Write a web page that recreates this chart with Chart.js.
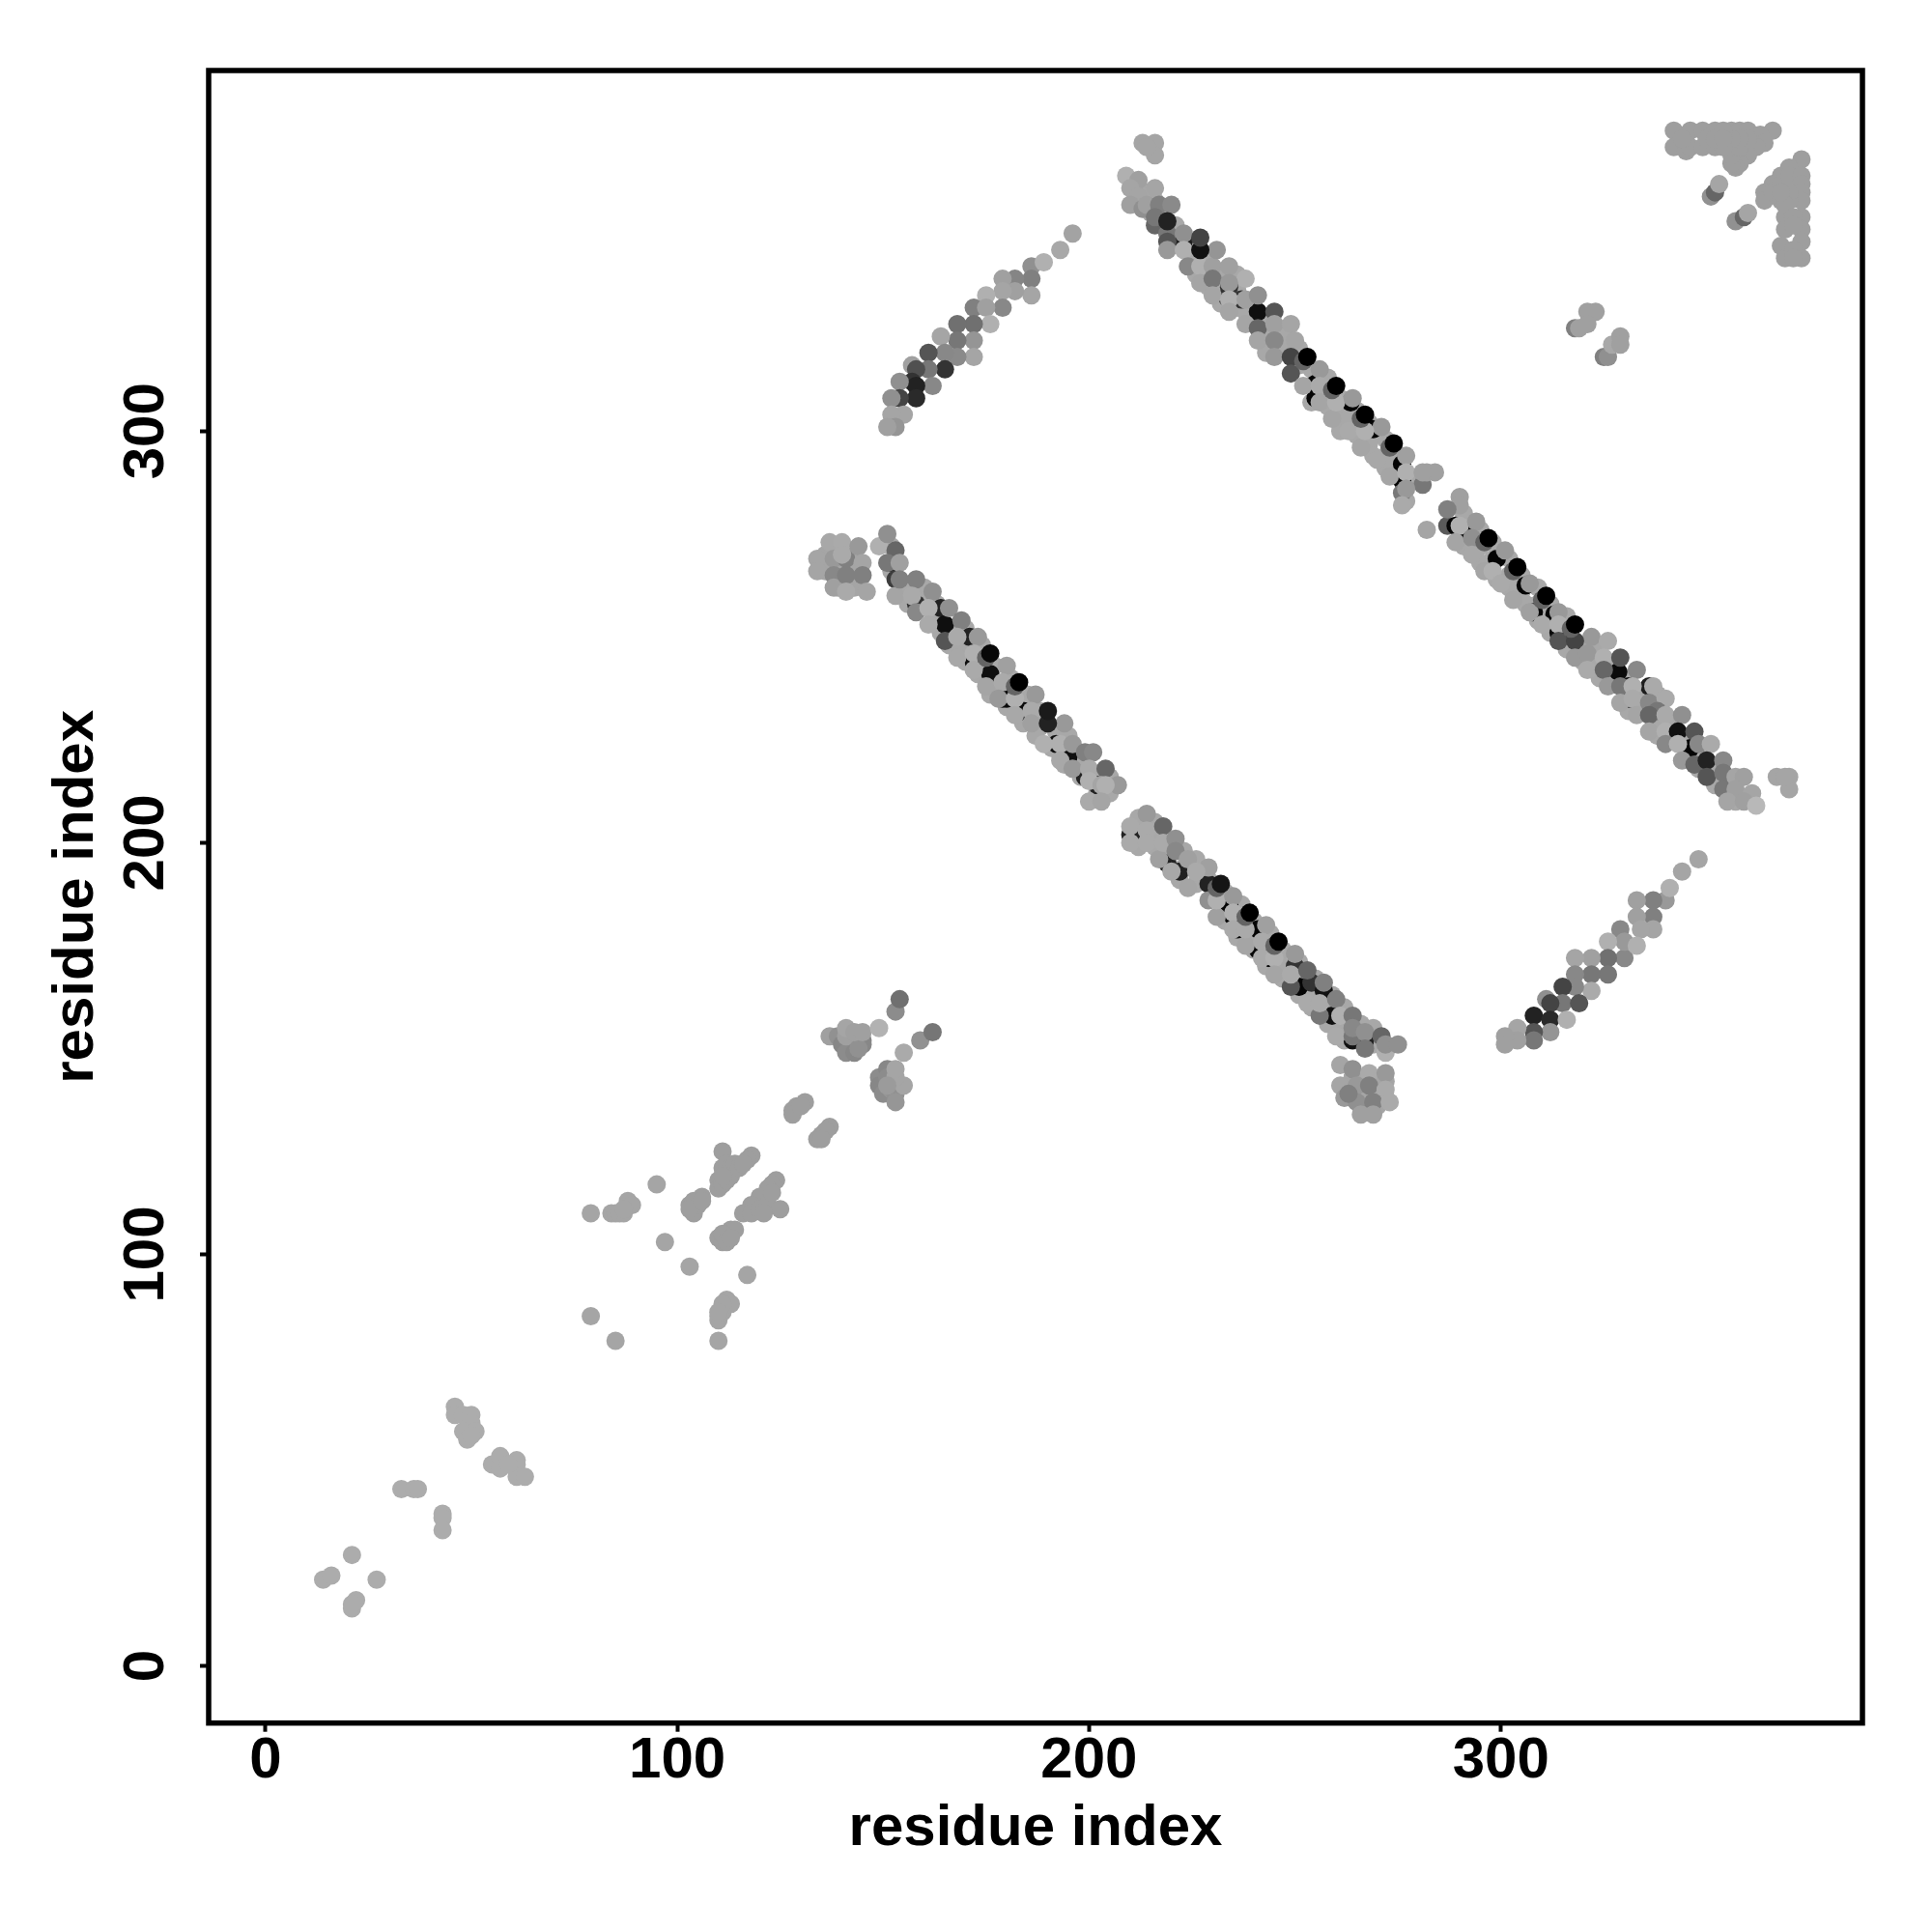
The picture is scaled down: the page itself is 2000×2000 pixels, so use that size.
<!DOCTYPE html>
<html>
<head>
<meta charset="utf-8">
<title>residue contacts</title>
<script src="https://cdn.jsdelivr.net/npm/chart.js@4"></script>
<style>
    html, body { margin: 0; background: #fff; }
</style>
</head>
<body>
<canvas id="contactChart" width="2000" height="2000"></canvas>
<script>
const tickValues = [0, 100, 200, 300];
const axisLabel = "residue index";

// bottom-left scatter
const lowX = [21,14,16,27,22,21,21,33,36,37,43,43,43,46,46,48,50,50,48,51,49,50,55,57,57,61,61,61,63,59];
const lowY = [27,21,22,21,16,14,15,43,43,43,37,36,33,63,61,61,61,59,57,57,55,56,49,51,48,50,49,46,46,49];
const lowShade = 172;

const midX = [79,84,85,86,87,88,89,87,95,97,103,117,79,85,110,110,110,111,112,113,111,110];
const midY = [110,110,110,110,110,113,112,111,117,103,97,95,85,79,79,84,85,86,89,88,88,86];
const midShade = 165;

const wingX = [103,104,106,105,104,103,106,111,111,112,113,114,118,117,110,110,111,112,113,115,116,111,124,123,122,120,118,116,118,120,122,125,123,121,110,111,112,113,114,111,112,113,128,129,131,128,130,134,135,137,136,135];
const wingY = [112,110,114,112,113,111,113,125,121,122,121,122,124,123,118,116,117,118,119,121,122,119,118,117,116,114,112,110,110,111,112,111,115,110,104,103,104,106,106,105,103,104,135,136,137,134,136,128,129,131,130,128];
const wingShade = 158;

const knotX = [137,139,140,141,141,143,145,145,144,141,143,145,149,153,154,159,162,155,149,149,151,151,150,152,153,153,155,153,153,151];
const knotY = [153,153,151,149,153,149,152,151,150,155,154,154,155,159,162,152,154,149,143,141,145,143,139,140,139,137,141,143,145,141];
const knotShade = [160,145,135,140,160,135,130,135,145,165,160,160,178,140,112,145,118,170,140,135,135,140,140,150,145,150,165,165,165,155];

// the two short parallel arms
const armUpX = [196,193,186,189,186,186,182,179,182,179,175,179,172,175,176,172,172,168,168,164,172,168,165,161,165,161,157,158,162,157,158,158,154,154,152,155,152,153,151];
const armUpY = [348,344,340,341,337,333,337,337,334,334,333,330,330,330,326,326,322,326,322,323,318,318,319,319,315,315,316,315,311,312,311,308,312,308,308,304,304,301,301];
const armUpShade = [163,168,144,176,128,165,133,160,160,165,176,136,128,160,176,112,149,112,119,165,165,138,136,85,51,119,160,80,136,51,34,42,144,68,144,165,165,149,160];

const armDownX = [348,344,340,341,337,333,337,337,333,334,329,330,330,326,333,326,322,318,326,322,318,322,318,315,311,315,319,312,308,312,316,312,308,308,304,304,301,301];
const armDownY = [196,193,186,189,186,186,182,179,182,179,179,172,176,176,175,172,172,172,168,168,168,164,165,165,162,161,161,161,158,157,157,154,154,152,155,152,153,151];
const armDownShade = [165,165,153,176,128,160,128,165,160,165,136,136,153,176,176,112,160,165,119,119,136,170,136,68,144,119,85,68,34,42,176,149,85,119,165,160,160,160];

// top-right corner
const cornerTopX = [342,342,346,345,346,349,349,352,352,356,358,360,366,363,364,362,360,358,357,356,356,356,358,360,358,356,354,354,344,350,352,354];
const cornerTopY = [373,369,373,368,369,373,369,373,369,373,373,373,373,372,370,369,367,365,364,365,367,369,369,371,371,371,373,369,371,371,371,371];
const cornerRightX = [373,370,368,366,364,364,366,368,370,373,373,373,373,373,373,373,373,369,369,368,369,370,368,370,369,368,371,371,371,371];
const cornerRightY = [366,364,362,360,358,356,358,360,362,362,360,358,356,352,349,346,342,352,349,345,342,356,356,358,355,358,352,350,344,342];
const cornerShade = 158;
const cornerPairX = [351,352,353,357,359,360];
const cornerPairY = [357,358,360,351,352,353];
const cornerPairShade = [145,102,165,145,102,165];

const blockX = [213,216,216,214,367,370,370,369,318,319,321,323,321,325,326,327,329,329];
const blockY = [370,370,367,369,216,216,213,216,325,325,329,329,326,318,318,321,323,321];
const blockShade = [165,165,165,165,165,165,165,165,128,160,160,160,160,128,144,168,160,160];

// long band, upper
const upperFillX = [214,213,216,215,218,221,222,225,228,226,232,229,232,236,236,232,236,238,240,243,243,247,247,243,251,251,254,254,258,258,254,261,262,258,265,263,261,268,265,268,272,272,269,275,275,272,279,277,291,292,291,295,295,298,298,295,302,302,299,305,305,302,309,309,306,312,312,309,316,316,312,320,320,316,323,323,324,327,327,331,335,334,331,338,338,342,342,345,338,346,349,352,348,352,355,355,357];
const upperFillY = [358,357,356,353,352,350,347,343,342,338,338,335,335,338,334,331,330,329,330,326,322,324,320,319,320,316,315,311,313,309,307,308,304,306,305,303,300,302,299,297,298,294,294,294,291,291,288,283,280,275,272,276,272,273,269,268,269,265,264,265,261,262,262,258,258,258,255,254,255,251,251,248,244,247,247,243,240,243,240,240,236,232,232,236,229,229,225,225,226,221,222,218,218,214,215,212,210];
const upperFillShade = 168;

const upperUnderX = [223,233.5,237,241,255,255,263.5,269,276,276,276,287,289,291.5,299,306,308,313,314,346,328.5,331,331,336];
const upperUnderY = [346,332.5,332,329,311.5,308,307,300.5,292,288,285,277,277,276,269,262.5,256,255.5,251,223,241.5,238,235,238];
const upperUnderShade = [30,50,50,15,5,5,5,5,5,5,120,90,5,10,5,5,5,5,10,5,10,15,30,30];

const upperAX = [209,212,210,216,212,210,213,214,217,216,216,220,219,219,223,219,223,224,227,227,230,230,230,234,234,238,234,234,234,238,241,238,241,241,245,245,249,245,245,250,249,249,252,256,256,256,259,260,264,263,266,271,267,270,277,273,277,281,277,276,282,284,281];
const upperAY = [362,361,359,359,357,355,354,355,355,350,352,355,348,346,348,344,344,340,340,336,340,337,333,335,340,337,336,332,329,332,333,326,325,322,329,326,326,322,318,322,318,314,311,315,311,307,303,307,308,300,296,301,300,293,294,289,290,287,286,282,290,290,290];
const upperAShade = [176,160,165,165,165,160,144,160,128,102,119,138,119,85,144,153,176,136,176,165,160,119,165,51,160,176,153,176,165,160,144,165,102,165,85,160,165,136,153,165,68,85,165,153,170,165,165,176,153,170,165,153,176,168,160,165,176,119,153,170,160,160,160];

const upperBX = [290,290,287,282,290,289,294,293,293,296,301,298,300,303,307,307,314,310,314,314,322,318,318,321,321,326,325,329,325,326,329,333,329,332,332,333,337,336,340,338,336,336,340,344,340,343,347,340,343,348,351,344,347,350,354,350,354,354,357,359,357,361,355,359,362];
const upperBY = [284,282,281,276,277,273,278,274,270,266,271,266,263,259,263,256,256,253,253,249,250,249,245,246,242,249,245,245,242,238,238,242,234,238,235,231,238,234,235,232,231,227,231,231,227,227,227,224,224,224,224,220,219,220,220,216,217,213,216,216,213,212,210,210,209];
const upperBShade = [160,160,128,165,176,165,153,144,168,165,153,176,170,165,153,160,153,170,176,85,153,68,153,153,170,170,176,85,102,153,119,136,165,176,170,165,170,136,170,119,102,165,170,144,176,17,85,136,176,136,170,153,102,34,136,85,119,119,165,160,160,165,165,160,184];

const haloX = [252,259,266,273,296,303,310,317,175,182,231,238,245];
const haloY = [317,310,303,296,273,266,259,252,245,238,189,182,175];
const haloShade = 100;

const upperTopX = [231,219,227,227,253,260,267,274,297,304,311,318];
const upperTopY = [344,351,344,347,318,311,304,297,274,267,260,253];
const upperTopShade = [149,34,17,68,0,0,0,0,0,0,0,0];

// long band, lower
const clusterLeftX = [136,139,143,136,139,143,143,139,134,134,137,140,138,138,138,141,141,144,145,145,141,146,140];
const clusterLeftY = [270,271,270,266,267,267,262,262,269,266,273,273,269,265,262,269,265,272,268,265,261,261,270];
const clusterLeftShade = [165,165,165,165,165,165,165,165,165,165,168,170,153,136,160,128,128,153,165,128,170,165,170];

const lowerFillX = [152,152,155,156,159,160,163,163,164,167,166,170,170,170,174,174,173,177,177,176,181,181,180,185,185,184,188,188,187,192,191,195,195,194,198,198,201,205,202,205,212,212,212,216,216,216,219,219,223,223,222,226,226,229,233,233,233,237,237,236,240,240,240,244,244,243,247,247,247,251,251,251,255,255,254,259,259,258,262,262,262,266,266,269,269];
const lowerFillY = [272,266,262,258,259,262,258,254,251,252,248,252,248,244,248,244,241,243,239,236,240,236,233,236,232,229,232,228,226,227,223,226,222,219,219,216,216,216,212,212,206,202,199,205,202,199,199,195,198,194,191,196,190,191,188,184,181,185,181,177,181,177,174,178,174,170,174,170,167,171,167,163,167,163,160,163,160,156,160,155,152,156,152,155,151];
const lowerFillShade = 168;

const lowerUnderX = [152,153,158,164,165,171,172,176,179,180,184,192,195,199,202,210,213,219,222,229,234,235,236,241,241,244,250,251,254,257,259,264,267];
const lowerUnderY = [268,264,258,257,253,250,244,241,235,235,232,224,221,216,214,202,202,195,193,190,185,182,179,179,174,172,170,165,166,164,158,152,152];
const lowerUnderShade = [50,60,50,34,15,34,15,15,15,10,10,15,15,34,34,34,34,34,34,34,5,5,5,5,5,5,51,5,51,17,17,17,34];

const lowerAX = [149,151,153,151,153,154,154,158,157,158,162,161,161,166,165,169,168,168,173,172,172,175,180,179,178,187,182,182,186,186,189,194,193,193,196,196,199,201,200,200,204,203,207,204,200,203];
const lowerAY = [272,275,271,268,260,268,264,264,260,256,261,257,253,257,249,254,250,245,250,246,242,238,243,239,235,236,235,231,232,229,224,229,224,220,224,218,222,222,218,215,218,214,214,214,210,210];
const lowerAShade = [176,144,102,119,165,160,128,128,170,136,144,176,170,144,85,128,170,168,153,176,170,165,160,170,153,153,176,168,170,160,176,153,176,168,153,153,128,136,170,176,102,165,153,176,170,165];

const lowerBX = [210,210,214,214,214,218,217,218,221,221,220,224,224,229,226,229,231,231,235,235,235,238,238,243,242,242,245,245,249,250,249,253,253,257,256,256,260,260,261,264,264,264,267,267,271,272,272,275];
const lowerBY = [204,200,207,203,200,204,196,200,201,198,193,196,189,194,193,186,182,186,187,183,179,175,179,180,176,172,172,168,165,173,168,169,161,166,158,161,162,153,158,158,153,155,154,150,153,149,151,151];
const lowerBShade = [170,170,153,170,170,102,160,170,144,136,168,160,165,160,170,144,160,176,153,176,170,165,170,160,170,170,176,165,85,153,170,102,170,128,119,170,128,170,176,119,119,136,144,119,102,176,144,144];

const lowerTopX = [190,176,183,190,232,239,246];
const lowerTopY = [229,246,239,232,190,183,176];
const lowerTopShade = [34,8,0,26,21,0,0];

const clusterRightX = [264,268,272,264,268,272,266,270,261,264,268,272,261,265,268,272,262,265,269,273,266,269,263];
const clusterRightY = [143,143,142,139,139,138,136,136,146,145,144,144,141,141,141,140,138,137,137,137,134,134,139];
const clusterRightShade = [165,165,165,165,165,165,165,165,165,144,170,153,165,153,128,170,153,144,128,170,160,160,128];

function gray(v) {
    return `rgb(${v},${v},${v})`;
}

function series(xs, ys, shade) {
    return {
        data: xs.map((x, i) => ({ x, y: ys[i] })),
        backgroundColor: Array.isArray(shade) ? shade.map(gray) : gray(shade),
        borderWidth: 0,
        pointRadius: 9.5,
        pointHoverRadius: 9.5,
    };
}

const frame = {
    id: "frame",
    afterDatasetsDraw(chart) {
        const { ctx, chartArea: a } = chart;
        ctx.save();
        ctx.strokeStyle = "#000";
        ctx.lineWidth = 5.5;
        ctx.strokeRect(a.left, a.top, a.right - a.left, a.bottom - a.top);
        ctx.restore();
    },
};

const labelFont = { family: "'Liberation Sans'", weight: "bold", size: 60 };

function axis(min, max, size, titlePadding, tickPadding) {
    return {
        type: "linear",
        min,
        max,
        afterBuildTicks(scale) { scale.ticks = tickValues.map((value) => ({ value })); },
        afterFit(scale) {
            if (scale.isHorizontal()) scale.height = size;
            else scale.width = size;
        },
        border: { display: false },
        grid: { drawOnChartArea: false, drawTicks: true, tickLength: 9, tickWidth: 4, tickColor: "#000" },
        ticks: { color: "#000", font: labelFont, padding: tickPadding, autoSkip: false, includeBounds: false },
        title: { display: true, text: axisLabel, color: "#000", font: labelFont, padding: titlePadding },
    };
}

const xAxis = axis(-13.8, 387.8, 216.3, { top: 0, bottom: 71 }, -5);
xAxis.ticks.maxRotation = 0;
const yAxis = axis(-13.85, 387.6, 216, { top: 43, bottom: 0 }, 4);
yAxis.ticks.minRotation = 90;
yAxis.ticks.maxRotation = 90;
yAxis.ticks.crossAlign = "center";

// Chart.js paints dataset 0 last, so the list runs from top layer to bottom layer
new Chart(document.getElementById("contactChart"), {
    type: "scatter",
    data: {
        datasets: [
            series(lowerTopX, lowerTopY, lowerTopShade),
            series(upperTopX, upperTopY, upperTopShade),
            series(haloX, haloY, haloShade),
            series(lowerBX, lowerBY, lowerBShade),
            series(lowerAX, lowerAY, lowerAShade),
            series(upperBX, upperBY, upperBShade),
            series(upperAX, upperAY, upperAShade),
            series(lowerUnderX, lowerUnderY, lowerUnderShade),
            series(upperUnderX, upperUnderY, upperUnderShade),
            series(lowerFillX, lowerFillY, lowerFillShade),
            series(upperFillX, upperFillY, upperFillShade),
            series(clusterRightX, clusterRightY, clusterRightShade),
            series(clusterLeftX, clusterLeftY, clusterLeftShade),
            series(blockX, blockY, blockShade),
            series(cornerPairX, cornerPairY, cornerPairShade),
            series(cornerRightX, cornerRightY, cornerShade),
            series(cornerTopX, cornerTopY, cornerShade),
            series(armDownX, armDownY, armDownShade),
            series(armUpX, armUpY, armUpShade),
            series(knotX, knotY, knotShade),
            series(wingX, wingY, wingShade),
            series(midX, midY, midShade),
            series(lowX, lowY, lowShade),
        ],
    },
    options: {
        responsive: false,
        animation: false,
        layout: { padding: { top: 73, right: 72, left: 0, bottom: 0 } },
        plugins: { legend: { display: false }, tooltip: { enabled: false } },
        scales: { x: xAxis, y: yAxis },
    },
    plugins: [frame],
});
</script>
</body>
</html>
